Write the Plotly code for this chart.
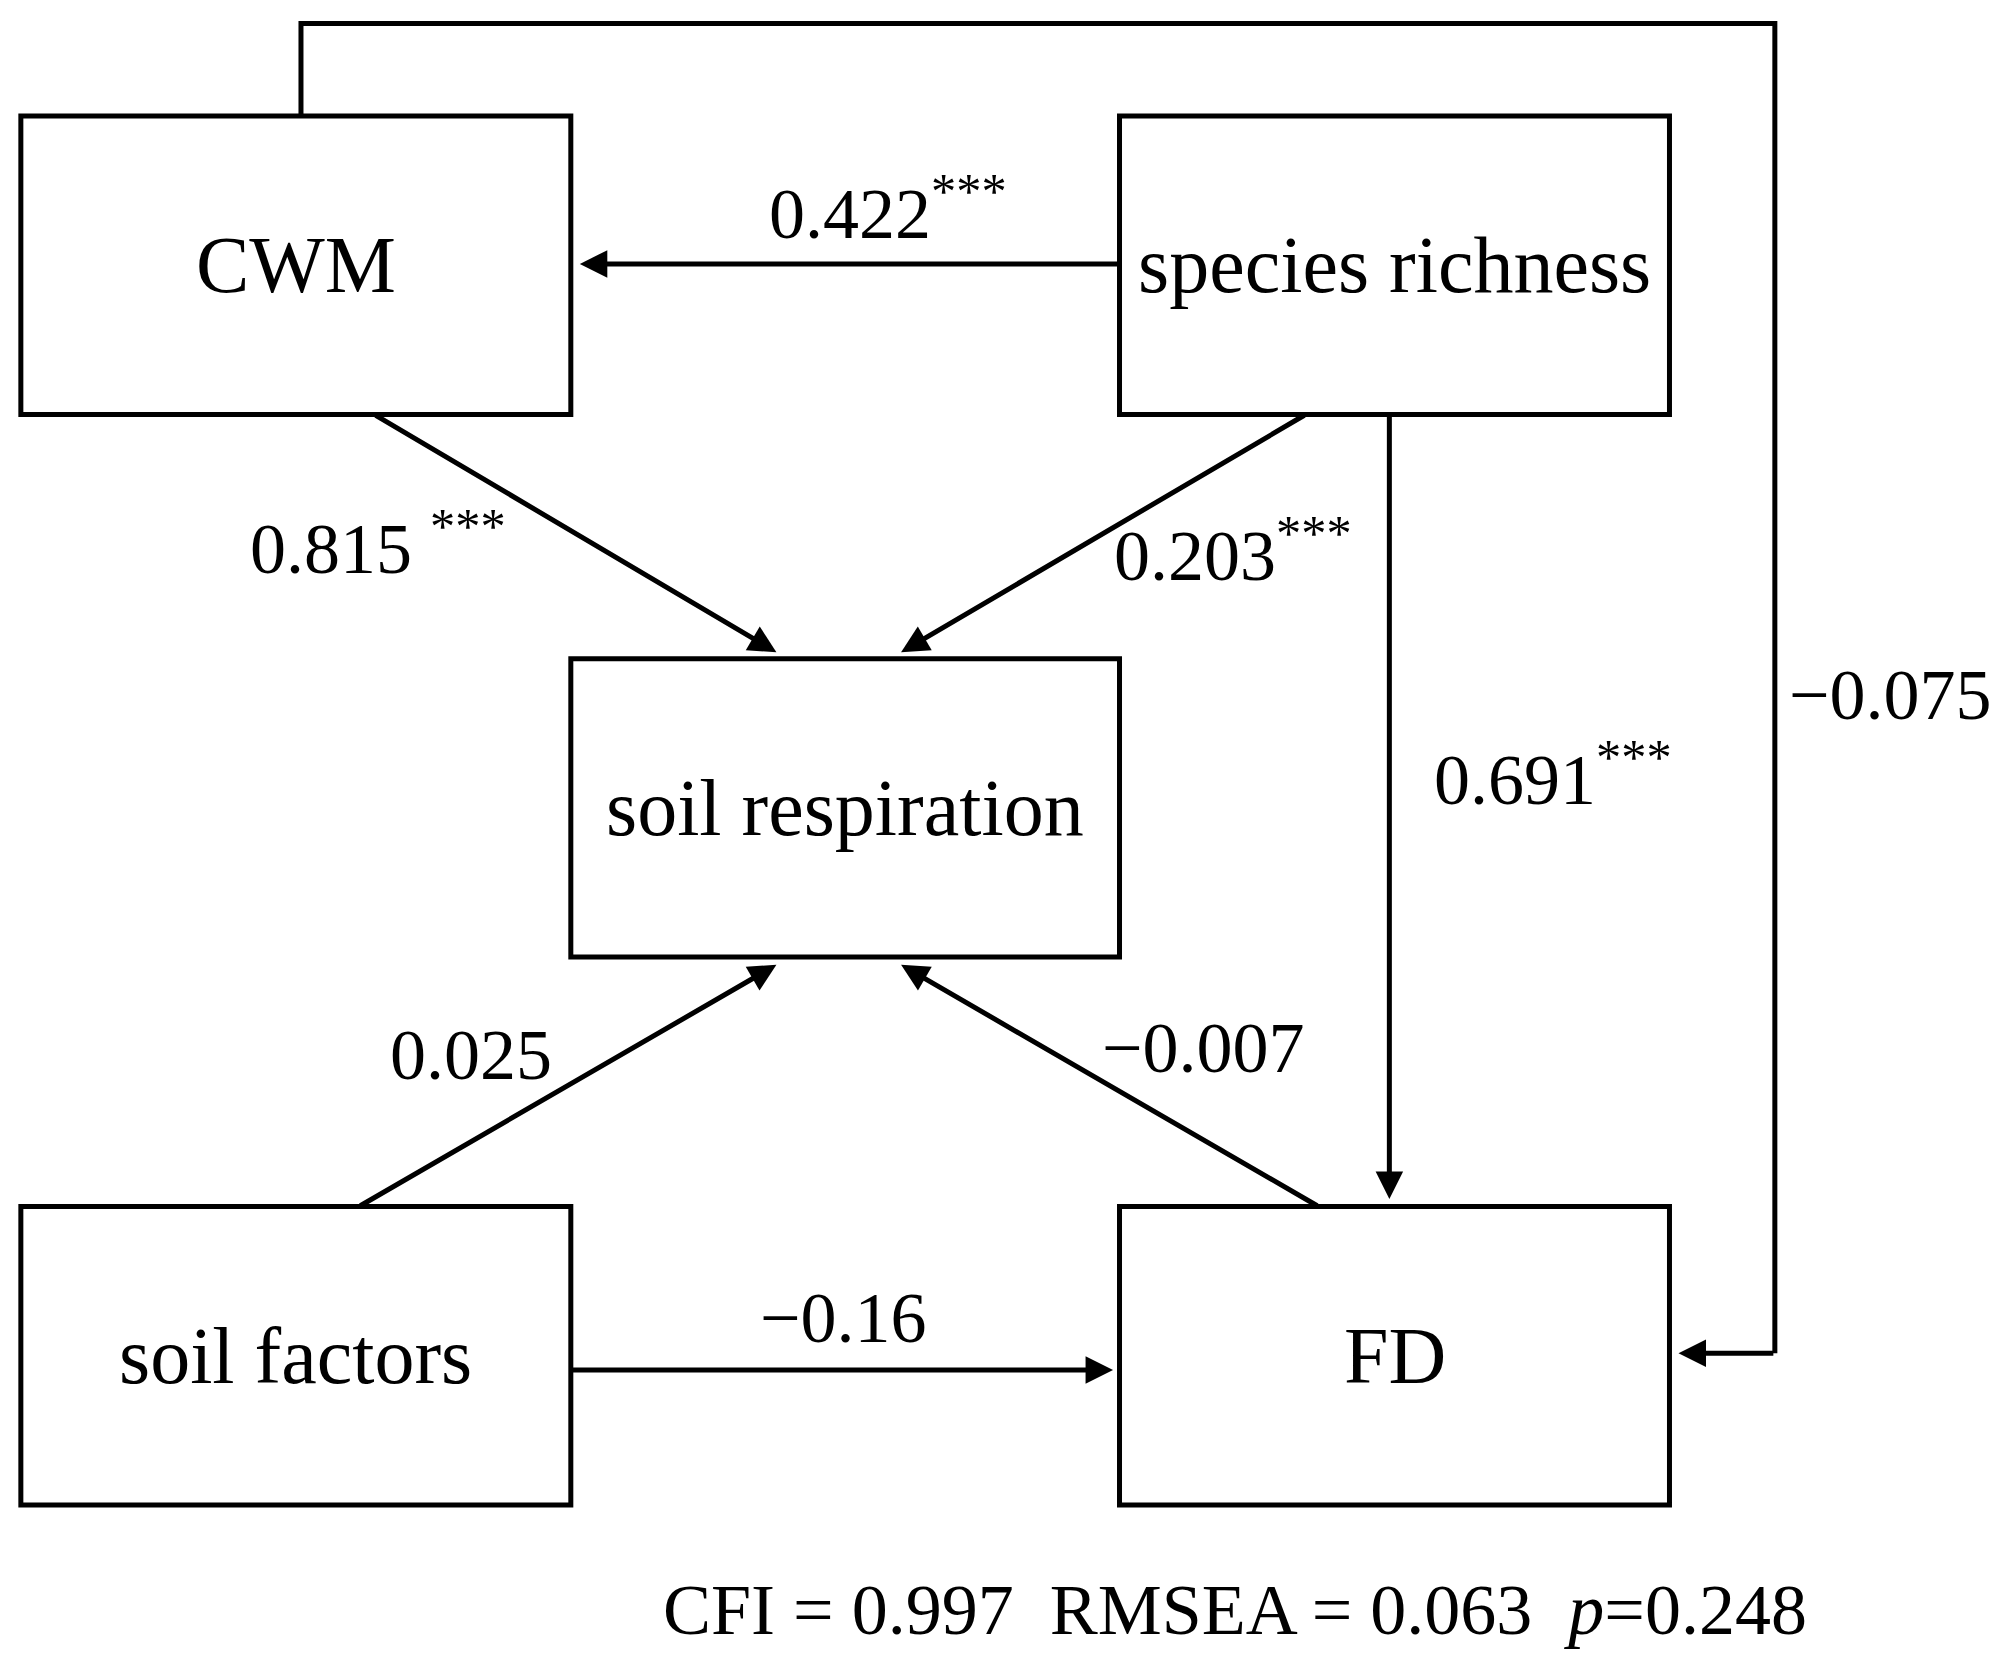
import plotly.graph_objects as go

# boxes: name, x0, y0, x1, y1 (drawing units, y down)
box_names = ["CWM", "species richness", "soil respiration", "soil factors", "FD"]
box_x0 = [15, 870, 443, 15, 870]
box_y0 = [90, 90, 512, 938, 938]
box_x1 = [443, 1298, 870, 443, 1298]
box_y1 = [322, 322, 744, 1170, 1170]

# path coefficients
path_labels = ["0.422<sup>***</sup>", "0.815 <sup>***</sup>", "0.203<sup>***</sup>",
               "0.691<sup>***</sup>", "0.025", "\u22120.007", "\u22120.16", "\u22120.075"]
label_x = [690, 293, 958, 1207, 365, 935, 655, 1470]
label_y = [162, 422, 428, 602, 820, 815, 1025, 540]

# arrow start/end
arr_x0 = [870, 290, 1015, 1080, 278, 1025, 443]
arr_y0 = [205, 322, 322, 322, 938, 938, 1065]
arr_x1 = [450, 603, 700, 1080, 603, 700, 865]
arr_y1 = [205, 507, 507, 932, 750, 750, 1065]

# CWM -> FD loop
loop_x = [233, 233, 1380, 1380]
loop_y = [90, 18, 18, 1052]

fit_text = "CFI = 0.997  RMSEA = 0.063  <i>p</i>=0.248"

FONT = "Liberation Serif"
LW = 5

fig = go.Figure()
fig.add_trace(go.Scatter(x=loop_x, y=loop_y, mode="lines",
                         line=dict(color="black", width=LW), hoverinfo="skip"))

shapes = []
annotations = []
for n, x0, y0, x1, y1 in zip(box_names, box_x0, box_y0, box_x1, box_y1):
    shapes.append(dict(type="rect", x0=x0, y0=y0, x1=x1, y1=y1, xref="x", yref="y",
                       line=dict(color="black", width=LW), fillcolor="white"))
    annotations.append(dict(x=(x0 + x1) / 2, y=(y0 + y1) / 2, text=n, showarrow=False,
                            font=dict(family=FONT, size=80, color="black")))

for x0, y0, x1, y1 in zip(arr_x0, arr_y0, arr_x1, arr_y1):
    annotations.append(dict(x=x1, y=y1, ax=x0, ay=y0, xref="x", yref="y", axref="x", ayref="y",
                            text="", showarrow=True, arrowhead=2, arrowsize=1.1,
                            arrowwidth=LW, arrowcolor="black"))
annotations.append(dict(x=1305, y=1052, ax=1380, ay=1052, xref="x", yref="y", axref="x", ayref="y",
                        text="", showarrow=True, arrowhead=2, arrowsize=1.1,
                        arrowwidth=LW, arrowcolor="black"))

for t, x, y in zip(path_labels, label_x, label_y):
    annotations.append(dict(x=x, y=y, text=t, showarrow=False,
                            font=dict(family=FONT, size=72, color="black")))

annotations.append(dict(x=960, y=1252, text=fit_text, showarrow=False,
                        font=dict(family=FONT, size=72, color="black")))

fig.update_layout(width=2011, height=1659, margin=dict(l=0, r=0, t=0, b=0),
                  paper_bgcolor="white", plot_bgcolor="white", showlegend=False,
                  shapes=shapes, annotations=annotations,
                  xaxis=dict(range=[5, 1570], visible=False, fixedrange=True),
                  yaxis=dict(range=[1296, 6], visible=False, fixedrange=True))
fig.write_html("out.html")
